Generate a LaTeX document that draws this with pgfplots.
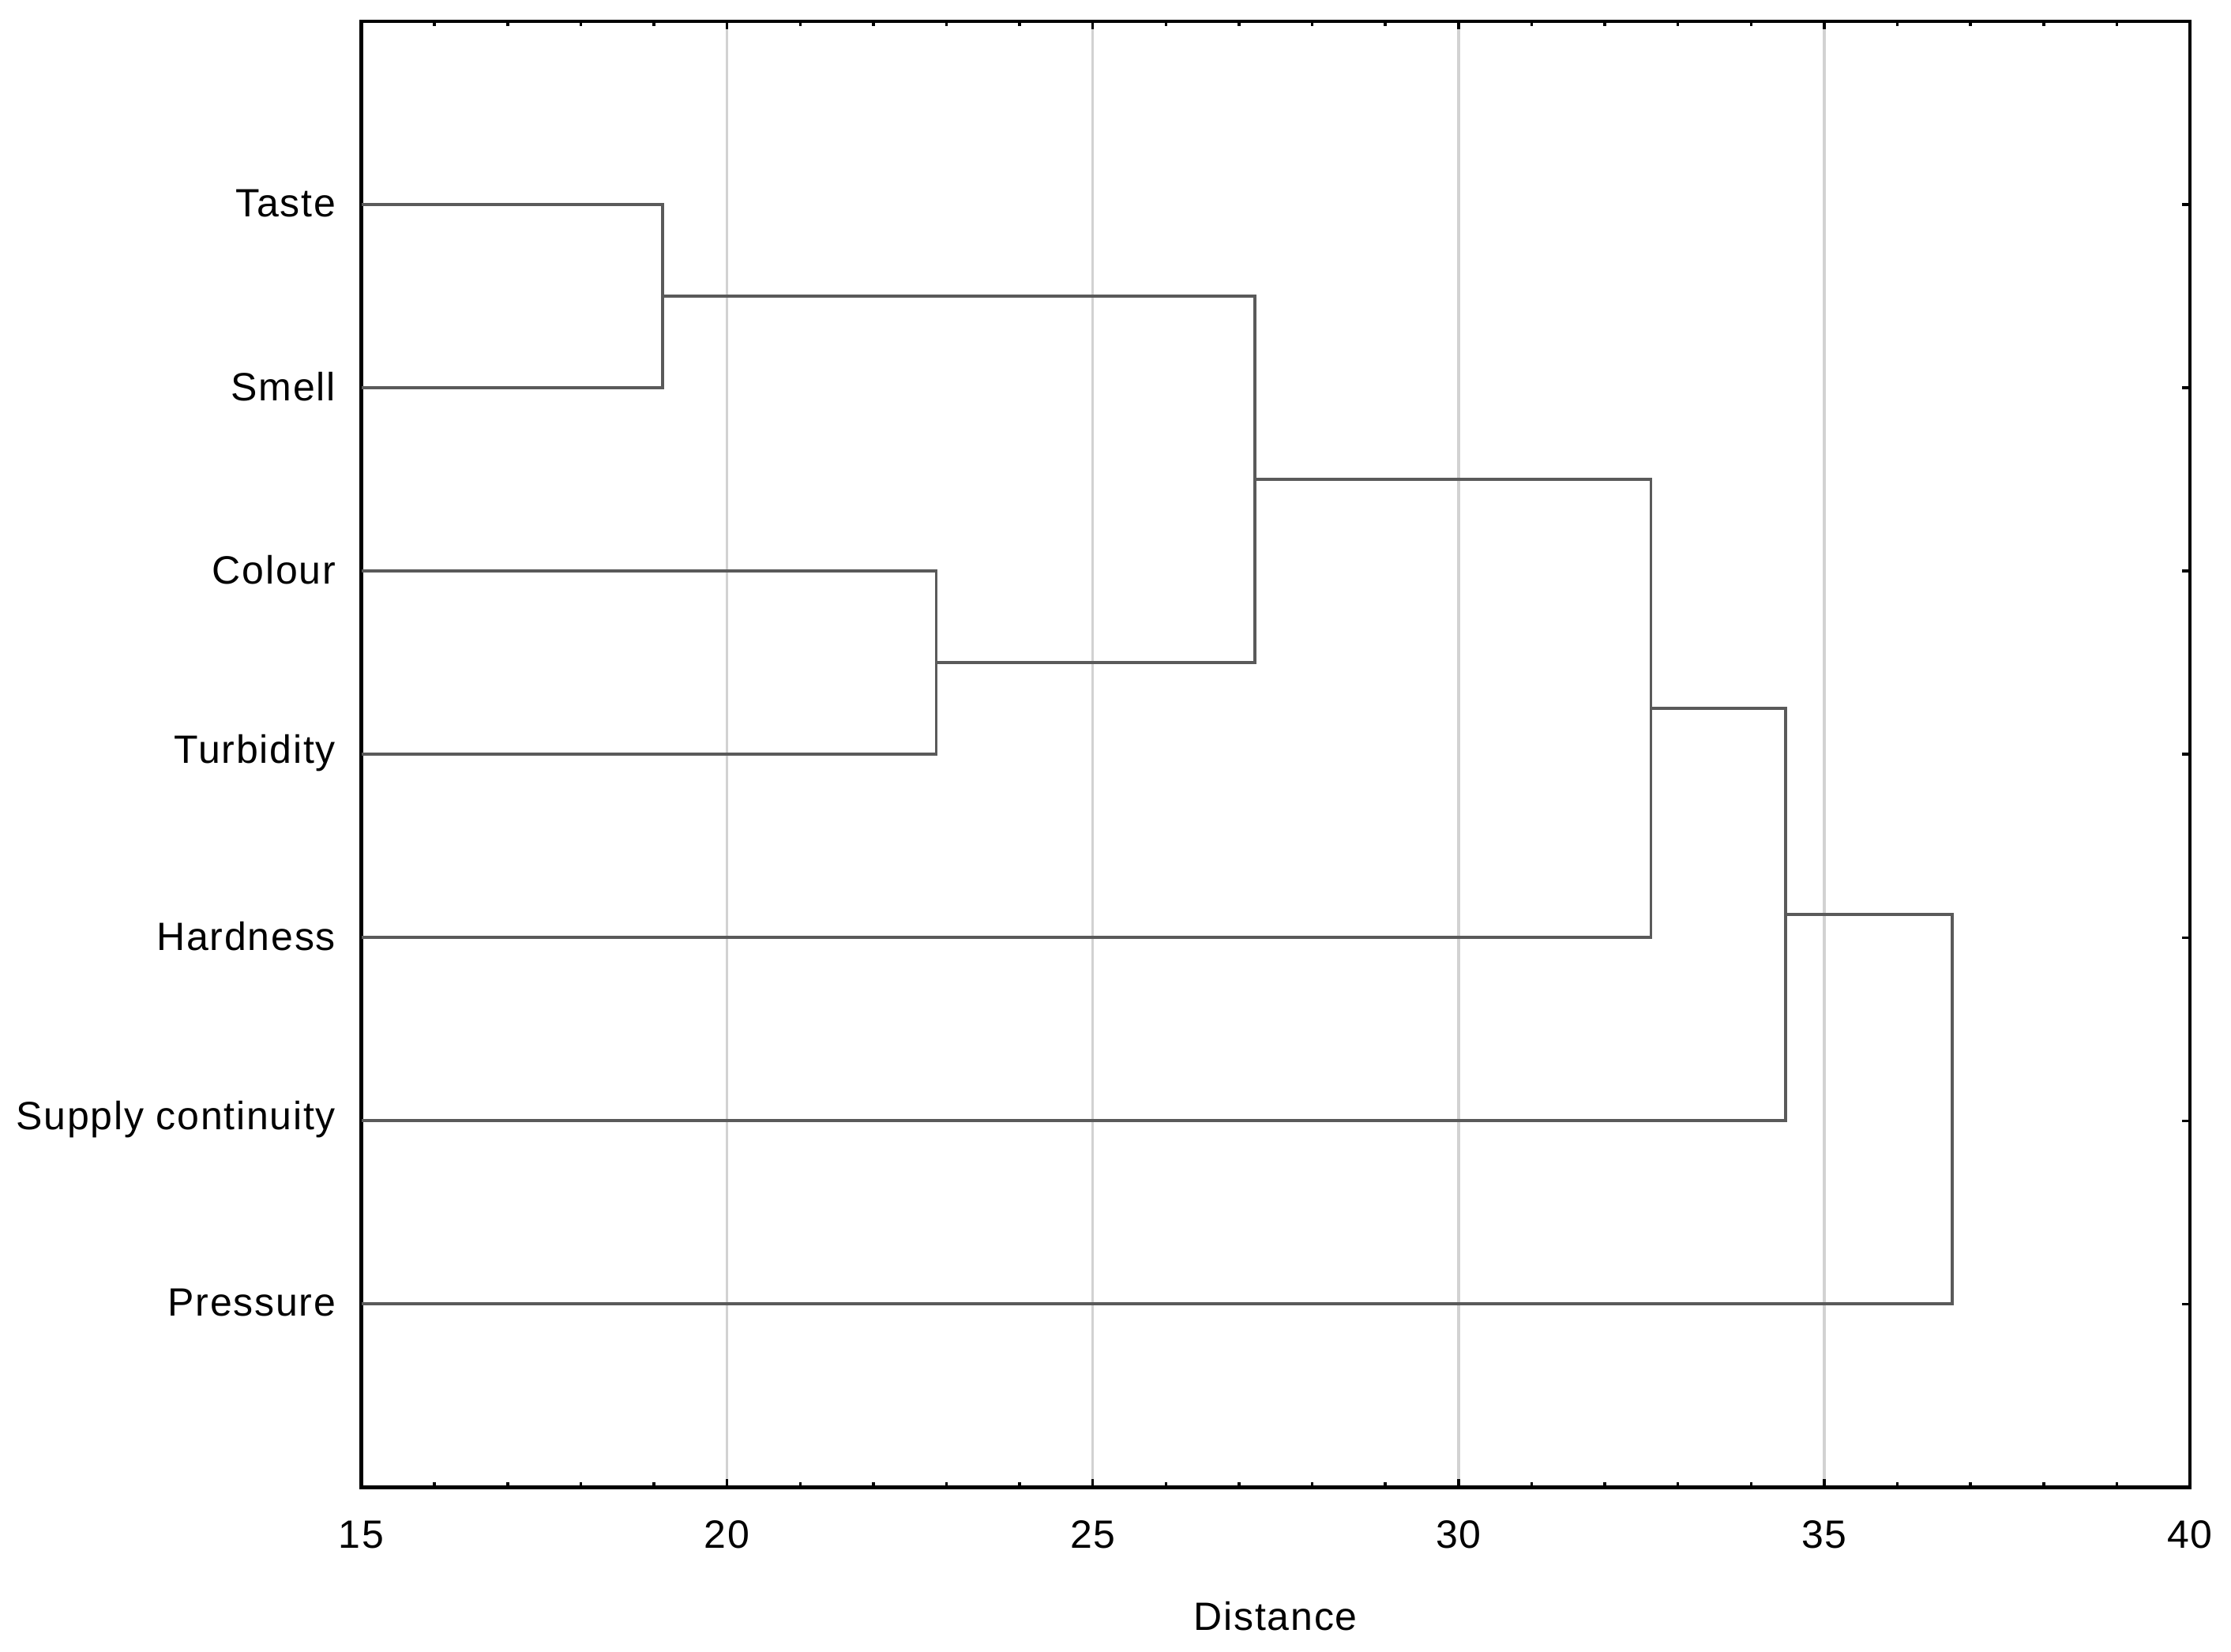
\documentclass[border=0pt]{standalone}
\usepackage{pgfplots}
\pgfplotsset{compat=1.18}
\usepackage{fontspec}
\setmainfont[LetterSpace=3.5]{Liberation Sans}
\definecolor{dendro}{RGB}{90,90,90}
\definecolor{gridc}{RGB}{210,210,210}
\begin{document}
\begin{tikzpicture}
\begin{axis}[
  at={(0,0)}, anchor=south west,
  scale only axis,
  width=463pt, height=371.2pt,
  xmin=15, xmax=40,
  ymin=0, ymax=8,
  y dir=reverse,
  xtick={15,20,...,40},
  minor x tick num=4,
  ytick={1,2,3,4,5,6,7},
  yticklabels={Taste,Smell,Colour,Turbidity,Hardness,Supply continuity,Pressure},
  tick pos=both,
  xticklabel pos=bottom,
  yticklabel pos=left,
  tick align=inside,
  major tick length=2pt,
  minor tick length=1.2pt,
  every tick/.style={black, line width=0.7pt},
  xmajorgrids=true,
  major grid style={gridc, line width=0.7pt},
  axis line style={black, line width=0.9pt},
  /pgf/number format/assume math mode=true,
  ticklabel style={font=\fontsize{10}{12}\selectfont},
  xticklabel style={yshift=-5pt},
  yticklabel style={xshift=-3pt, yshift=0.4pt},
  xlabel={Distance},
  xlabel style={font=\fontsize{10}{12}\selectfont, at={(rel axis cs:0.5,0)}, anchor=center, yshift=-32.6pt},
  clip=false,
]
\addplot[dendro, line width=0.75pt] coordinates {(15,1) (19.12,1) (19.12,2) (15,2)};
\addplot[dendro, line width=0.75pt] coordinates {(15,3) (22.86,3) (22.86,4) (15,4)};
\addplot[dendro, line width=0.75pt] coordinates {(19.12,1.5) (27.22,1.5) (27.22,3.5) (22.86,3.5)};
\addplot[dendro, line width=0.75pt] coordinates {(27.22,2.5) (32.63,2.5) (32.63,5) (15,5)};
\addplot[dendro, line width=0.75pt] coordinates {(32.63,3.75) (34.47,3.75) (34.47,6) (15,6)};
\addplot[dendro, line width=0.75pt] coordinates {(34.47,4.875) (36.75,4.875) (36.75,7) (15,7)};
\end{axis}
\pgfresetboundingbox
\useasboundingbox (-91.5pt,-41.6pt) rectangle (473.4pt,376.6pt);
\end{tikzpicture}
\end{document}
